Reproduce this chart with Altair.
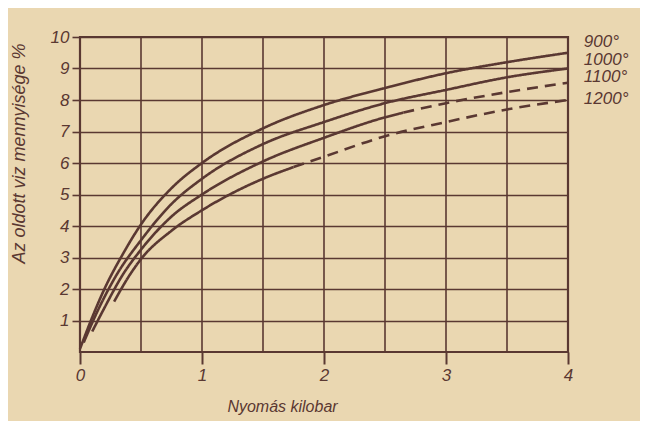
import altair as alt
import pandas as pd

# Curve readings (pressure kbar, dissolved water %)
x900 = [0.0, 0.1, 0.2, 0.35, 0.5, 0.75, 1.0, 1.5, 2.0, 2.5, 3.0, 3.5, 4.0]
y900 = [0.1, 1.1, 2.0, 3.1, 4.05, 5.2, 6.0, 7.1, 7.84, 8.38, 8.85, 9.2, 9.5]

x1000 = [0.03, 0.15, 0.3, 0.5, 0.75, 1.0, 1.5, 2.0, 2.5, 3.0, 3.5, 4.0]
y1000 = [0.3, 1.35, 2.45, 3.55, 4.7, 5.5, 6.6, 7.3, 7.9, 8.32, 8.72, 9.0]

x1100 = [0.1, 0.2, 0.35, 0.5, 0.75, 1.0, 1.5, 2.0, 2.5, 2.65, 3.0, 3.5, 4.0]
y1100 = [0.65, 1.4, 2.45, 3.25, 4.3, 5.0, 6.05, 6.8, 7.45, 7.6, 7.9, 8.25, 8.55]
dash1100 = 2.65  # dashed from here on

x1200 = [0.28, 0.4, 0.5, 0.75, 1.0, 1.5, 1.75, 2.0, 2.5, 3.0, 3.5, 4.0]
y1200 = [1.6, 2.4, 2.95, 3.85, 4.5, 5.5, 5.87, 6.2, 6.85, 7.3, 7.7, 8.0]
dash1200 = 1.75

series_names = ["900°", "1000°", "1100°", "1200°"]
label_y = [9.84, 9.27, 8.72, 8.02]

grid_x = [0.5, 1.0, 1.5, 2.0, 2.5, 3.0, 3.5]
x_ticks = [0, 1, 2, 3, 4]
y_ticks = [1, 2, 3, 4, 5, 6, 7, 8, 9, 10]

rows = []
def add(name, xs, ys, dash_from=None):
    for x, y in zip(xs, ys):
        if dash_from is None or x <= dash_from:
            rows.append({"p": x, "w": y, "series": name, "style": "solid", "grp": name + "s"})
        if dash_from is not None and x >= dash_from:
            rows.append({"p": x, "w": y, "series": name, "style": "dashed", "grp": name + "d"})

add("900°", x900, y900)
add("1000°", x1000, y1000)
add("1100°", x1100, y1100, dash1100)
add("1200°", x1200, y1200, dash1200)
df = pd.DataFrame(rows)

ink = "#5a3832"
bg = "#EAD7B1"
font = "Liberation Sans"

xscale = alt.Scale(domain=[0, 4], nice=False)
yscale = alt.Scale(domain=[0, 10], nice=False)

x_axis = alt.Axis(values=x_ticks, format="d", title="Nyomás kilobar", grid=False,
                  tickSize=12, tickWidth=2, tickColor=ink, domain=False,
                  labelFont=font, labelFontStyle="italic", labelFontSize=17,
                  labelColor=ink, labelPadding=3, labelFlush=False, labelOverlap=False,
                  titleFont=font, titleFontStyle="italic", titleFontSize=16,
                  titleFontWeight="normal", titleColor=ink,
                  titleX=202, titleY=46, titleBaseline="top")
y_axis = alt.Axis(values=y_ticks, format="d", title="Az oldott viz mennyisége %",
                  grid=True, gridColor=ink, gridWidth=1.6, gridOpacity=1,
                  tickSize=8, tickWidth=1.6, tickColor=ink, domain=False,
                  labelFont=font, labelFontStyle="italic", labelFontSize=17,
                  labelColor=ink, labelPadding=3, labelOverlap=False, labelFlush=False,
                  titleFont=font, titleFontStyle="italic", titleFontSize=18,
                  titleFontWeight="normal", titleColor=ink,
                  titleX=-52, titleY=116)

grid = alt.Chart(pd.DataFrame({"g": grid_x})).mark_rule(color=ink, strokeWidth=1.6).encode(
    x=alt.X("g:Q", scale=xscale, axis=x_axis)
)

lines = alt.Chart(df).mark_line(color=ink, strokeWidth=2.6, interpolate="monotone").encode(
    x=alt.X("p:Q", scale=xscale, axis=x_axis),
    y=alt.Y("w:Q", scale=yscale, axis=y_axis),
    strokeDash=alt.StrokeDash("style:N",
                              scale=alt.Scale(domain=["solid", "dashed"], range=[[1, 0], [11, 7]]),
                              legend=None),
    detail="grp:N",
)

labels = alt.Chart(pd.DataFrame({"name": series_names, "ly": label_y, "lx": [4.13] * 4})).mark_text(
    align="left", baseline="middle", font=font, fontStyle="italic", fontSize=17, color=ink
).encode(
    x=alt.X("lx:Q", scale=xscale, axis=x_axis),
    y=alt.Y("ly:Q", scale=yscale, axis=y_axis),
    text="name:N",
)

chart = alt.layer(grid, lines, labels).properties(
    width=488, height=315,
    autosize=alt.AutoSizeParams(type="none"),
    padding={"left": 72, "top": 29, "right": 72, "bottom": 69},
    background=bg,
).configure_view(stroke=ink, strokeWidth=2.2)

chart.save("out.html", embed_options={"renderer": "svg", "actions": False})
